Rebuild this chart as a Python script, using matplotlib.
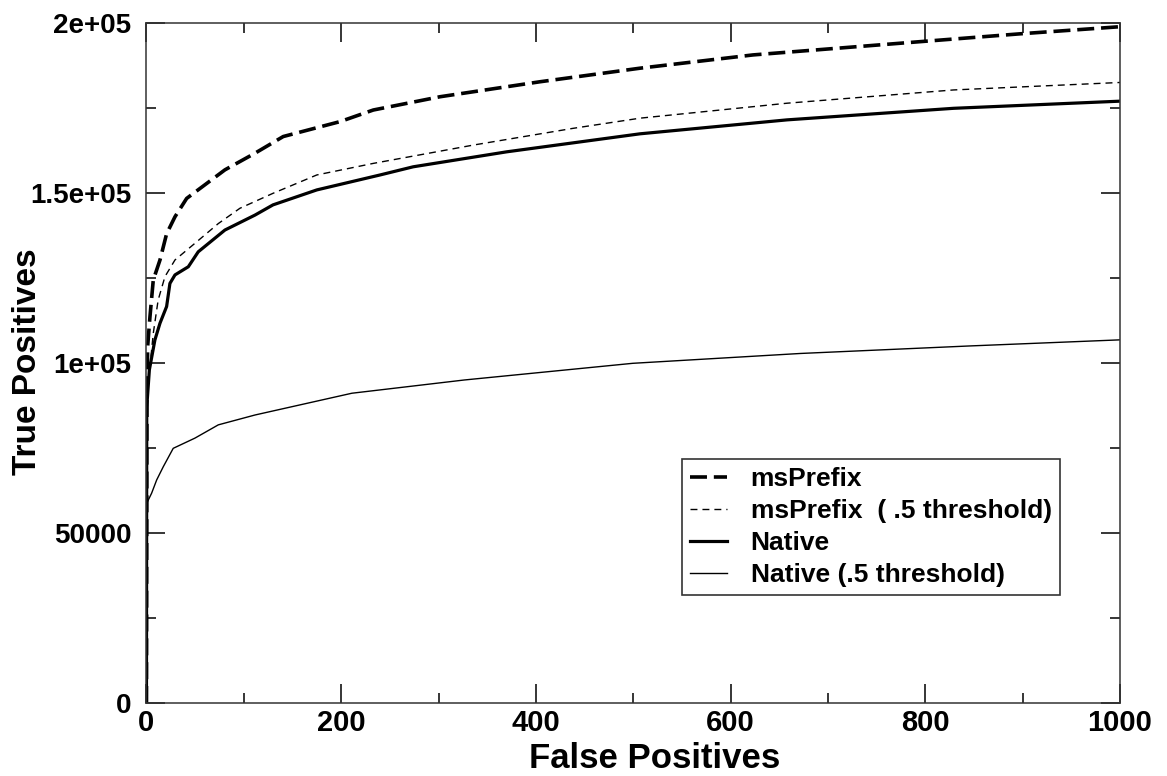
import matplotlib
matplotlib.use('Agg')
import matplotlib.pyplot as plt

plt.rcParams['font.family'] = ['Liberation Sans', 'DejaVu Sans']
plt.rcParams['font.weight'] = 'bold'

# curves (false positives vs true positives)
ms_fp = [0, 0.5, 1.2, 3.6, 7, 13.9, 20.7, 29.3, 41.3, 80.6, 111.5, 140.5,
         199, 233, 301.5, 404, 507, 623, 794.5, 897, 1000]
ms_tp = [0, 88000, 104800, 113600, 124400, 130300, 138000, 143000, 148400,
         156800, 161700, 166600, 171000, 174400, 178300, 182700, 186700,
         190600, 194500, 196800, 198900]

ms5_fp = [0, 0.5, 7, 12, 19, 29.3, 49.8, 73.8, 96, 130, 175, 233, 336, 438,
          507, 658, 829, 1000]
ms5_tp = [0, 90000, 108700, 118500, 125400, 130300, 135200, 141000, 145500,
          149900, 155300, 158700, 164100, 169000, 172000, 176400, 180300,
          182500]

nat_fp = [0, 0.3, 3, 8.7, 13.9, 20.7, 24.1, 29.3, 43, 53.2, 80.6, 111.5, 130,
          175, 240, 274, 370, 507, 658, 829, 1000]
nat_tp = [0, 87000, 98000, 106800, 111700, 116600, 123400, 125900, 128300,
          132700, 139100, 143500, 146500, 150900, 155300, 157700, 162100,
          167400, 171500, 174900, 177000]

nat5_fp = [0, 0.2, 5.3, 10.5, 17.3, 27.5, 49.8, 73.8, 111.5, 211, 326.6,
           499.5, 672, 845, 1000]
nat5_tp = [0, 58700, 61700, 65600, 69500, 74900, 77900, 81800, 84700, 91100,
           95000, 99900, 102800, 105000, 106800]

fig = plt.figure(figsize=(11.67, 7.76), dpi=100)
ax = fig.add_axes([0.1255, 0.0941, 0.8342, 0.8763])

ax.plot(ms_fp, ms_tp, color='black', lw=2.6, dashes=(4.7, 1.9),
        label='msPrefix')
ax.plot(ms5_fp, ms5_tp, color='black', lw=1.0, dashes=(5, 3.6),
        label='msPrefix  ( .5 threshold)')
ax.plot(nat_fp, nat_tp, color='black', lw=2.3, label='Native')
ax.plot(nat5_fp, nat5_tp, color='black', lw=1.0, label='Native (.5 threshold)')

ax.set_xlim(0, 1000)
ax.set_ylim(0, 200000)
ax.set_xticks([0, 200, 400, 600, 800, 1000])
ax.set_xticks(range(100, 1000, 200), minor=True)
ax.set_yticks([0, 50000, 100000, 150000, 200000])
ax.set_yticklabels(['0', '50000', '1e+05', '1.5e+05', '2e+05'])
ax.set_yticks(range(25000, 200000, 50000), minor=True)

ax.tick_params(which='both', direction='in', top=True, right=True,
               width=1.1, labelsize=20)
ax.tick_params(which='major', length=13.5)
ax.tick_params(which='minor', length=7)
ax.tick_params(axis='x', pad=4, labelsize=21)
ax.tick_params(axis='y', pad=11)
for s in ax.spines.values():
    s.set_linewidth(1.1)
    s.set_color('#333333')

ax.set_xlabel('False Positives', fontsize=25, fontweight='bold')
ax.xaxis.label.set_va('baseline')
ax.xaxis.set_label_coords(0.522, -0.0956)
ax.set_ylabel('True Positives', fontsize=24, fontweight='bold')
ax.yaxis.label.set_va('center')
ax.yaxis.label.set_ha('center')
ax.yaxis.set_label_coords(-0.1217, 0.502)

leg = ax.legend(loc='lower left', bbox_to_anchor=(0.55, 0.159),
                fontsize=19, frameon=True, fancybox=False, handlelength=1.4,
                handletextpad=0.9, labelspacing=0.3, borderpad=0.3,
                borderaxespad=0)
leg.get_frame().set_edgecolor('black')
leg.get_frame().set_linewidth(1.2)

fig.savefig('out.png', dpi=100)
